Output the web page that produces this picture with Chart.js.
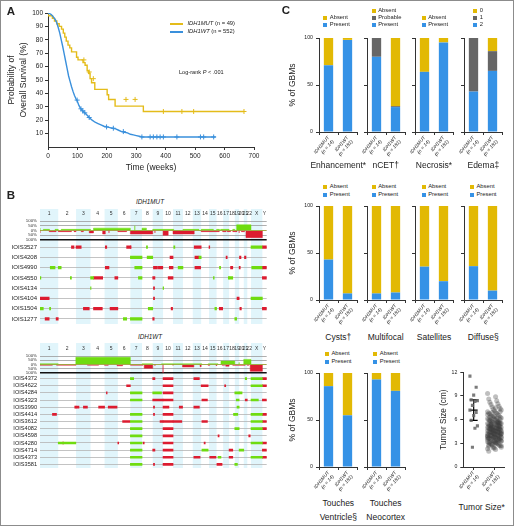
<!DOCTYPE html>
<html><head><meta charset="utf-8">
<script src="https://cdn.jsdelivr.net/npm/chart.js@4.4.1/dist/chart.umd.min.js"></script>
<style>
html,body{margin:0;padding:0;background:#fff;}
#wrap{position:relative;width:514px;height:526px;overflow:hidden;font-family:"Liberation Sans",Arial,Helvetica,sans-serif;color:#222;}
#frame{position:absolute;left:0;top:0;width:512px;height:524px;border:1px solid #8c8c8c;}
canvas{position:absolute;}
.tx{position:absolute;white-space:nowrap;line-height:1;z-index:5;}
.c{transform:translate(-50%,-50%);}
.l{transform:translateY(-50%);}
.sw{position:absolute;z-index:5;}
</style></head><body><div id="wrap"><div id="frame"></div></div>
<script>
// ---------------- DATA ----------------
// Panel A: Kaplan-Meier
const kmMutTime = [0,15,22,30,38,46,52,57,62,68,74,80,97,102,119,126,133,138,143,148,159,201,206,228,324,353,666];
const kmMutSurv = [100,98,96,94,92,90,88,85,82,79,76,74,71,67,65,63,61,57,55,51,48,43,39,35.5,30.5,26.5,26.5];
const kmWtTime = [0,5,10,15,20,25,30,35,40,45,50,55,60,65,70,75,80,85,90,95,100,105,110,115,120,130,140,150,160,170,180,190,200,210,220,230,240,250,260,270,280,290,300,310,320,570];
const kmWtSurv = [100,99.5,99,98,96.5,95,92.5,89,85,80,75,69.5,64,58.5,53,49,45,41.5,38.5,36,34,31,29,27.5,26.5,24.5,22,20,18.5,17.5,16.5,15.5,15,14.5,14,13.5,12.5,11.5,11,10.5,9.5,9,8.5,8,7.5,7.5];
const censMutTime = [122,140,154,265,296,392,455,495,666];
const censMutSurv = [65,56,51,35.5,35.5,26.5,26.5,26.5,26.5];
const censWtTime = [99,112,118,125,140,199,222,256,319,347,358,370,381,392,438,518,529,563];
const censWtSurv = [35,28.5,27,25.5,22,15,14,11.5,7.5,7.5,7.5,7.5,7.5,7.5,7.5,7.5,7.5,7.5];
const timeTicks = [0,100,200,300,400,500,600,700];
const survTicks = [10,20,30,40,50,60,70,80,90,100];

// Panel B: copy-number
const chromLabels = ['1','2','3','4','5','6','7','8','9','10','11','12','13','14','15','16','17','18','19','20','21','22','X','Y'];
const chromSizes = [249,243,198,191,181,171,159,146,141,136,135,134,115,107,103,90,81,78,59,63,48,51,155,59];
const freqTicks = [100,50,0,-50,-100];
const mutSamples = ['IOIS3527','IOIS4208','IOIS4990','IOIS4550','IOIS4134','IOIS4104','IOIS1504','IOIS1277'];
const wtSamples = ['IOIS4372','IOIS4622','IOIS4284','IOIS4323','IOIS3990','IOIS4414','IOIS3612','IOIS4082','IOIS4598','IOIS4280','IOIS4714','IOIS4373','IOIS3581'];
// [sample, chrom, startMb, endMb]
const mutGains = [[0,'8',60,75],[0,'11',10,25],[0,'X',0,150],
 [1,'7',0,159],[1,'8',70,146],[1,'13',85,115],
 [2,'1',140,205],[2,'2',0,40],[2,'7',60,159],[2,'11',70,135],[2,'16',40,55],[2,'X',10,150],
 [3,'1',0,12],[3,'2',165,180],[3,'4',0,40],[3,'7',110,159],[3,'15',60,70],[3,'17',70,81],[3,'18',0,50],
 [4,'4',0,6],[4,'10',0,8],
 [5,'X',0,155],
 [6,'1',0,45],[6,'1',130,145],[6,'8',85,146],[6,'15',80,103],
 [7,'6',75,121],[7,'7',0,159],[7,'19',0,25]];
const mutLosses = [[0,'2',180,215],[0,'3',0,70],[0,'5',10,30],[0,'6',120,171],[0,'7',0,10],[0,'13',20,115],[0,'15',0,10],[0,'Y',0,59],
 [1,'10',95,136],[1,'13',30,85],[1,'17',40,55],[1,'20',5,25],[1,'21',10,30],
 [2,'5',10,60],[2,'9',10,65],[2,'9',77,137],[2,'10',85,136],[2,'13',30,107],[2,'18',20,50],[2,'20',0,15],[2,'Y',0,59],
 [3,'4',40,165],[3,'5',140,181],[3,'9',0,30],[3,'10',70,136],[3,'Y',0,59],
 [4,'9',10,25],
 [5,'1',0,125],[5,'9',10,25],[5,'19',30,59],
 [6,'3',100,180],[6,'4',40,160],[6,'5',75,181],[6,'10',110,130],[6,'16',37,83],[6,'20',10,30],[6,'Y',0,59],
 [7,'1',70,125],[7,'1',220,249],[7,'9',0,20]];
const wtGains = [[0,'7',0,45],[0,'21',20,40],[0,'X',0,155],
 [1,'X',0,155],
 [2,'7',0,159],[2,'9',0,120],[2,'19',0,59],[2,'20',0,40],
 [3,'7',0,159],[3,'19',20,59],[3,'X',0,100],
 [4,'19',30,59],
 [5,'7',0,159],[5,'18',60,78],[5,'19',0,40],[5,'X',0,155],
 [6,'7',0,159],[6,'X',0,155],
 [7,'7',0,159],[7,'19',0,59],[7,'X',0,155],
 [8,'7',0,159],
 [9,'2',0,240],[9,'7',0,159],[9,'X',0,155],
 [10,'7',0,159],[10,'14',10,95],[10,'20',0,63],
 [11,'7',0,159],[11,'16',20,60],[11,'X',0,155],
 [12,'7',0,159],[12,'19',0,35]];
const wtLosses = [[0,'9',0,30],[0,'10',0,136],[0,'13',15,90],[0,'Y',0,59],
 [1,'6',120,171],[1,'10',0,136],[1,'14',0,95],[1,'17',20,35],[1,'Y',0,59],
 [2,'5',25,35],[2,'10',0,136],
 [3,'9',0,141],[3,'10',0,136],[3,'14',10,85],[3,'21',20,48],[3,'Y',0,59],
 [4,'2',225,243],[4,'3',0,40],[4,'3',100,155],[4,'4',110,191],[4,'5',50,170],[4,'9',10,25],[4,'10',0,80],[4,'11',85,130],[4,'13',15,90],
 [5,'1',170,225],[5,'9',10,25],[5,'10',0,136],[5,'Y',0,59],
 [6,'6',65,165],[6,'9',100,141],[6,'10',0,136],[6,'11',0,120],[6,'14',10,85],[6,'Y',0,59],
 [7,'10',0,136],[7,'Y',0,59],
 [8,'10',0,136],[8,'16',20,35],[8,'22',20,40],
 [9,'2',60,75],[9,'6',0,12],[9,'8',15,30],[9,'10',0,136],[9,'14',40,55],[9,'Y',0,59],
 [10,'9',0,30],[10,'10',0,136],[10,'18',0,50],[10,'Y',0,59],
 [11,'10',0,136],[11,'13',15,100],[11,'15',10,95],[11,'18',0,50],[11,'Y',0,59],
 [12,'9',10,25],[12,'10',0,136],[12,'16',5,75]];
// summary frequency [chrom, startMb, endMb, percent]
const mutFreqGain = [['1',0,45,25],['1',130,205,12],['2',0,40,12],['4',0,40,12],['7',0,60,25],['7',60,159,50],['8',60,146,25],['11',10,135,12],['13',85,115,12],['15',60,103,12],['16',40,55,12],['18',0,50,12],['19',0,25,12],['X',0,155,60]];
const mutFreqLoss = [['1',0,125,25],['1',220,249,12],['2',180,215,12],['3',0,70,12],['3',100,180,12],['4',40,165,25],['5',10,60,37],['5',60,181,25],['6',120,171,12],['9',0,30,37],['9',30,141,25],['10',70,136,50],['13',20,115,37],['16',37,83,12],['17',40,55,12],['18',20,50,12],['19',30,59,12],['20',0,30,25],['21',10,30,12],['Y',0,59,75]];
const wtFreqGain = [['2',0,240,8],['7',0,159,85],['9',0,120,8],['14',10,95,8],['16',20,60,8],['19',0,59,40],['20',0,63,25],['X',0,155,60]];
const wtFreqLoss = [['1',170,225,8],['3',0,155,8],['4',110,191,8],['5',50,170,10],['6',65,171,15],['8',15,30,8],['9',0,30,45],['9',30,141,15],['10',0,136,100],['11',0,130,12],['13',15,100,30],['14',0,95,25],['15',10,95,10],['16',5,75,12],['17',20,35,8],['18',0,50,20],['21',20,48,10],['22',20,40,10],['Y',0,59,80]];

// Panel C: stacked percentages [IDH1MUT, IDH1WT]
const groupCats = [['IDH1MUT','(n = 14)'],['IDH1WT','(n = 181)']];
const pctTicks = [0,50,100];
const enhPresent=[71,98], enhAbsent=[29,2];
const ncetPresent=[80,26.5], ncetProbable=[20,1], ncetAbsent=[0,72.5];
const necPresent=[64,95.3], necAbsent=[36,4.7];
const edema2=[43,65], edema1=[57,21], edema0=[0,14];
const cystPresent=[43,7], cystAbsent=[57,93];
const multiPresent=[7,8], multiAbsent=[93,92];
const satPresent=[35.5,20], satAbsent=[64.5,80];
const diffPresent=[36,10], diffAbsent=[64,90];
const ventPresent=[86,55], ventAbsent=[14,45];
const neoPresent=[93,81], neoAbsent=[7,19];
// Tumor size (cm)
const sizeTicks=[0,3,6,9,12];
const mutSize=[11.5,10.1,9.1,8.5,8.4,8.3,7.8,7.2,6.9,6.5,5.9,5.2,4.9,2.5];
const wtSize=[9.3,8.9,8.6,8.4,8.2,8.0,7.9,7.7,7.6,7.4,7.3,7.2,7.1,7.0,6.9,6.8,6.8,6.7,6.6,6.5,6.5,6.4,6.3,6.3,6.2,6.1,6.1,6.0,6.0,5.9,
 5.9,5.8,5.8,5.7,5.7,5.6,5.6,5.5,5.5,5.5,5.4,5.4,5.3,5.3,5.3,5.2,5.2,5.1,5.1,5.1,5.0,5.0,5.0,4.9,4.9,4.9,4.8,4.8,4.8,4.8,
 4.7,4.7,4.7,4.6,4.6,4.6,4.5,4.5,4.5,4.5,4.4,4.4,4.4,4.3,4.3,4.3,4.2,4.2,4.2,4.1,4.1,4.1,4.0,4.0,4.0,3.9,3.9,3.9,3.8,3.8,
 3.8,3.7,3.7,3.7,3.6,3.6,3.5,3.5,3.5,3.4,3.4,3.3,3.3,3.2,3.2,3.1,3.1,3.0,3.0,2.9,2.9,2.8,2.8,2.7,2.6,2.5,2.4,2.3,2.2,2.0,
 6.2,5.9,5.6,5.4,5.2,5.0,4.8,4.6,4.4,4.2,4.0,3.8,3.6,3.4,3.2,5.7,5.3,4.9,4.5,4.1,3.7,3.3,6.4,6.6,7.5,2.6,3.0,4.3,4.7,5.1,
 5.5,5.8,6.0,4.5,4.2,3.9,3.5,3.1,2.8,5.0,4.8,4.4,4.0,3.6,6.9,7.0,2.4,2.7,3.3,3.9,4.6,5.2,5.6,6.3,4.1,4.9,3.4,2.9,5.4,4.3,3.7];
const mutSizeMean=7.2, mutSizeLow=5.9, mutSizeHigh=8.5;
const wtSizeMean=4.8, wtSizeLow=4.45, wtSizeHigh=5.1;

// ---------------- STYLE ----------------
const FONT='"Liberation Sans", Arial, Helvetica, sans-serif';
Chart.defaults.font.family=FONT;
Chart.defaults.color='#222';
const kmYellow='#e4bc1a', kmBlue='#3a90dc';
const barBlue='#3592e6', barYellow='#e2b904', barGray='#666666';
const gainCol='#6fdc10', lossCol='#dc1c30', bandCol='#e1f5fb';
const axisCol='#333';

const wrap=document.getElementById('wrap');
function addCanvas(l,t,w,h){const c=document.createElement('canvas');c.width=w;c.height=h;c.style.left=l+'px';c.style.top=t+'px';c.style.width=w+'px';c.style.height=h+'px';wrap.appendChild(c);return c;}
function addText(html,x,y,size,o={}){const d=document.createElement('div');d.className='tx '+(o.left?'l':'c');d.innerHTML=html;d.style.left=x+'px';d.style.top=y+'px';d.style.fontSize=size+'px';if(o.bold)d.style.fontWeight='bold';if(o.italic)d.style.fontStyle='italic';wrap.appendChild(d);return d;}
function addSwatch(x,y,w,h,col){const d=document.createElement('div');d.className='sw';d.style.left=x+'px';d.style.top=y+'px';d.style.width=w+'px';d.style.height=h+'px';d.style.background=col;wrap.appendChild(d);}
const base={responsive:false,maintainAspectRatio:false,animation:false,devicePixelRatio:1,events:[],plugins:{legend:{display:false},tooltip:{enabled:false},title:{display:false}}};
// fixed-size axis boxes, no extra label padding pushed into the layout
const fitV=w=>s=>{s.width=w;s.paddingTop=0;s.paddingBottom=0;};
const fitH=h=>s=>{s.height=h;s.paddingLeft=0;s.paddingRight=0;};

// ---------------- PANEL A ----------------
new Chart(addCanvas(0,0,270,176),{
 type:'line',
 data:{datasets:[
  {data:kmWtTime.map((t,i)=>({x:t,y:kmWtSurv[i]})),borderColor:kmBlue,borderWidth:1.4,pointRadius:0,tension:0},
  {data:kmMutTime.map((t,i)=>({x:t,y:kmMutSurv[i]})),borderColor:kmYellow,borderWidth:1.4,pointRadius:0,stepped:'after'},
  {type:'scatter',data:censWtTime.map((t,i)=>({x:t,y:censWtSurv[i]})),pointStyle:'cross',pointRadius:2.5,borderColor:kmBlue,borderWidth:1},
  {type:'scatter',data:censMutTime.map((t,i)=>({x:t,y:censMutSurv[i]})),pointStyle:'cross',pointRadius:2.5,borderColor:kmYellow,borderWidth:1}
 ]},
 options:{...base,layout:{padding:{top:13,right:16,left:0,bottom:0}},
  scales:{
   x:{type:'linear',min:0,max:700,afterBuildTicks:s=>{s.ticks=timeTicks.map(v=>({value:v}));},
      ticks:{font:{size:6.5},color:'#222',padding:2,maxRotation:0,autoSkip:false},
      grid:{drawOnChartArea:false,tickLength:3,color:axisCol},border:{color:axisCol,width:1},
      title:{display:true,text:'Time (weeks)',font:{size:8.5},color:'#222',padding:{top:0,bottom:3}},
      afterFit:fitH(29)},
   y:{type:'linear',min:0,max:100,afterBuildTicks:s=>{s.ticks=survTicks.map(v=>({value:v}));},
      ticks:{font:{size:6.5},color:'#222',padding:2,autoSkip:false},
      grid:{drawOnChartArea:false,tickLength:3,color:axisCol},border:{color:axisCol,width:1},
      title:{display:true,text:['Probability of','Overall Survival (%)'],font:{size:8.5,lineHeight:1.4},color:'#222',padding:{top:6,bottom:0}},
      afterFit:fitV(48)}
  }}
});
addSwatch(170,23.3,13,1.5,kmYellow);
addSwatch(170,31.3,13,1.5,kmBlue);
addText('<i>IDH1MUT</i> (n = 49)',187.5,24,5.8,{left:true});
addText('<i>IDH1WT</i> (n = 552)',187.5,32,5.8,{left:true});
addText('Log-rank <i>P</i> &lt; .001',179,72.7,5.6,{left:true});

// ---------------- PANEL B ----------------
const chromOffsets=[];let acc=0;chromSizes.forEach(s=>{chromOffsets.push(acc);acc+=s;});
const genomeTotal=acc;
const chromCenters=chromSizes.map((s,i)=>chromOffsets[i]+s/2);
const gpos=(c,p)=>chromOffsets[chromLabels.indexOf(c)]+p;
const bandPlugin={id:'bands',beforeDraw(chart){const x=chart.scales.x,ctx=chart.ctx;ctx.save();ctx.fillStyle=bandCol;
 for(let i=0;i<chromSizes.length;i+=2){const a=x.getPixelForValue(chromOffsets[i]),b=x.getPixelForValue(chromOffsets[i]+chromSizes[i]);ctx.fillRect(a,0,b-a,chart.height);}ctx.restore();}};
function stepPts(segs,sign){const arr=segs.map(s=>[gpos(s[0],s[1]),gpos(s[0],s[2]),s[3]]).sort((a,b)=>a[0]-b[0]);
 const pts=[{x:0,y:0}];arr.forEach(s=>{pts.push({x:s[0],y:sign*s[2]});pts.push({x:s[1],y:0});});pts.push({x:genomeTotal,y:0});return pts;}
function summaryChart(top,h,axisH,gains,losses){
 new Chart(addCanvas(0,top,270,h),{type:'line',plugins:[bandPlugin],
  data:{datasets:[
   {data:stepPts(gains,1),stepped:'after',fill:'origin',backgroundColor:gainCol,borderColor:gainCol,borderWidth:0.5,pointRadius:0},
   {data:stepPts(losses,-1),stepped:'after',fill:'origin',backgroundColor:lossCol,borderColor:lossCol,borderWidth:0.5,pointRadius:0}]},
  options:{...base,layout:{padding:{top:0,right:3.3,left:0,bottom:2}},
   scales:{
    x:{type:'linear',position:'top',min:0,max:genomeTotal,afterBuildTicks:s=>{s.ticks=chromCenters.map(v=>({value:v}));},
       ticks:{autoSkip:false,maxRotation:0,callback:(v,i)=>chromLabels[i],font:{size:5},color:'#333',padding:4.5},
       grid:{display:false,drawTicks:false},border:{display:false},afterFit:fitH(axisH)},
    y:{type:'linear',min:-100,max:100,afterBuildTicks:s=>{s.ticks=freqTicks.map(v=>({value:v}));},
       ticks:{autoSkip:false,callback:v=>Math.abs(v)+'%',font:{size:4.4,lineHeight:1},color:'#333',padding:3},
       grid:{drawTicks:false,color:c=>c.tick&&c.tick.value===-100?'#111':(c.tick&&c.tick.value===0?'#c8c8c8':'#9a9a9a'),lineWidth:c=>c.tick&&c.tick.value===-100?1.6:0.8},
       border:{display:false},afterFit:fitV(40)}
   }}});
}
function rowsChart(top,h,names,gains,losses,thick){
 const toBars=segs=>segs.map(s=>({y:names[s[0]],x:[gpos(s[1],s[2]),gpos(s[1],s[3])]}));
 new Chart(addCanvas(0,top,270,h),{type:'bar',plugins:[bandPlugin],
  data:{labels:names,datasets:[
   {data:toBars(gains),backgroundColor:gainCol,barThickness:thick,grouped:false,borderWidth:0},
   {data:toBars(losses),backgroundColor:lossCol,barThickness:thick,grouped:false,borderWidth:0}]},
  options:{...base,indexAxis:'y',layout:{padding:{top:0,right:3.3,left:0,bottom:0}},
   scales:{
    x:{type:'linear',min:0,max:genomeTotal,display:false},
    y:{type:'category',offset:true,
       ticks:{autoSkip:false,font:{size:names.length>8?5.6:6},color:'#222',padding:3},
       grid:{offset:false,drawTicks:false,color:'#b4b4b4',lineWidth:0.8},border:{display:false},afterFit:fitV(40)}
   }}});
}
summaryChart(209,33,12,mutFreqGain,mutFreqLoss);
rowsChart(242,82,mutSamples,mutGains,mutLosses,2.6);
summaryChart(343,32,13,wtFreqGain,wtFreqLoss);
rowsChart(375,93,wtSamples,wtGains,wtLosses,2);
addText('IDH1MUT',150,201.7,6.3,{italic:true});
addText('IDH1WT',150,336.7,6.3,{italic:true});

// ---------------- PANEL C ----------------
function stackChart(left,top,yw,series,yLabels){
 const w=yw+38+3,h=5+94+30;
 new Chart(addCanvas(left,top,w,h),{type:'bar',
  data:{labels:groupCats,datasets:series.map(s=>({label:s[0],data:s[1],backgroundColor:s[2],borderWidth:0,categoryPercentage:0.5,barPercentage:0.98}))},
  options:{...base,layout:{padding:{top:5,right:3,left:0,bottom:0}},
   scales:{
    x:{stacked:true,ticks:{font:{size:4.8,style:'italic'},color:'#222',maxRotation:50,minRotation:50,autoSkip:false,padding:0},
       grid:{drawOnChartArea:false,tickLength:3,color:axisCol},border:{color:axisCol},afterFit:fitH(30)},
    y:{stacked:true,min:0,max:100,afterBuildTicks:s=>{s.ticks=pctTicks.map(v=>({value:v}));},
       ticks:{display:yLabels,font:{size:5.2},color:'#222',padding:3},
       grid:{drawOnChartArea:false,tickLength:3,color:axisCol},border:{color:axisCol},
       title:{display:yLabels,text:'% of GBMs',font:{size:8.5},color:'#222',padding:{top:17.5,bottom:0}},
       afterFit:fitV(yw)}
   }}});
}
const gL=[270,362,410,459], gY=[49,5,5,5];
stackChart(gL[0],33,gY[0],[['Present',enhPresent,barBlue],['Absent',enhAbsent,barYellow]],true);
stackChart(gL[1],33,gY[1],[['Present',ncetPresent,barBlue],['Probable',ncetProbable,barGray],['Absent',ncetAbsent,barYellow]],false);
stackChart(gL[2],33,gY[2],[['Present',necPresent,barBlue],['Absent',necAbsent,barYellow]],false);
stackChart(gL[3],33,gY[3],[['2',edema2,barBlue],['1',edema1,barGray],['0',edema0,barYellow]],false);
stackChart(gL[0],201,gY[0],[['Present',cystPresent,barBlue],['Absent',cystAbsent,barYellow]],true);
stackChart(gL[1],201,gY[1],[['Present',multiPresent,barBlue],['Absent',multiAbsent,barYellow]],false);
stackChart(gL[2],201,gY[2],[['Present',satPresent,barBlue],['Absent',satAbsent,barYellow]],false);
stackChart(gL[3],201,gY[3],[['Present',diffPresent,barBlue],['Absent',diffAbsent,barYellow]],false);
stackChart(gL[0],368,gY[0],[['Present',ventPresent,barBlue],['Absent',ventAbsent,barYellow]],true);
stackChart(gL[1],368,gY[1],[['Present',neoPresent,barBlue],['Absent',neoAbsent,barYellow]],false);

// tumor size scatter
new Chart(addCanvas(430,367,80,130),{type:'scatter',
 data:{datasets:[
  {data:wtSize.map((v,i)=>({x:1.5+(((i*7)%13)-6)*0.055,y:v})),pointStyle:'circle',pointRadius:2.5,backgroundColor:'rgba(60,60,60,0.33)',borderWidth:0},
  {data:mutSize.map((v,i)=>({x:0.5+(((i*5)%7)-3)*0.06,y:v})),pointStyle:'rect',pointRadius:2.2,backgroundColor:'rgba(100,100,100,0.85)',borderWidth:0},
  {type:'line',data:[{x:0.5,y:mutSizeLow},{x:0.5,y:mutSizeHigh}],borderColor:'#000',borderWidth:1.2,pointRadius:0},
  {data:[{x:0.5,y:mutSizeLow},{x:0.5,y:mutSizeHigh},{x:0.5,y:mutSizeMean}],pointStyle:'line',pointRadius:4,borderColor:'#000',borderWidth:1.2},
  {type:'line',data:[{x:1.5,y:wtSizeLow},{x:1.5,y:wtSizeHigh}],borderColor:'#fff',borderWidth:1.2,pointRadius:0},
  {data:[{x:1.5,y:wtSizeLow},{x:1.5,y:wtSizeHigh},{x:1.5,y:wtSizeMean}],pointStyle:'line',pointRadius:3.5,borderColor:'#fff',borderWidth:1.2}
 ]},
 options:{...base,layout:{padding:{top:5,right:4.7,left:0,bottom:0}},
  scales:{
   x:{type:'linear',min:0,max:2,afterBuildTicks:s=>{s.ticks=[0.5,1.5].map(v=>({value:v}));},
      ticks:{callback:(v,i)=>groupCats[i],font:{size:4.8,style:'italic'},color:'#222',maxRotation:50,minRotation:50,autoSkip:false,padding:0},
      grid:{drawOnChartArea:false,tickLength:3,color:axisCol},border:{color:axisCol},afterFit:fitH(30)},
   y:{type:'linear',min:0,max:12,afterBuildTicks:s=>{s.ticks=sizeTicks.map(v=>({value:v}));},
      ticks:{font:{size:5.2},color:'#222',padding:3,autoSkip:false},
      grid:{drawOnChartArea:false,tickLength:3,color:axisCol},border:{color:axisCol},
      title:{display:true,text:'Tumor Size (cm)',font:{size:8.2},color:'#222',padding:{top:8.5,bottom:0}},
      afterFit:fitV(33.3)}
  }}});

// legends for panel C (top item first)
function legend(x,bottomY,step,items){items.forEach((it,i)=>{const y=bottomY-(items.length-1-i)*step;addSwatch(x,y-2,4,4,it[0]);addText(it[1],x+6.5,y,5.8,{left:true});});}
legend(323.3,25.3,7.3,[[barYellow,'Absent'],[barBlue,'Present']]);
legend(371.7,25.3,7.3,[[barYellow,'Absent'],[barGray,'Probable'],[barBlue,'Present']]);
legend(421.7,25.3,7.3,[[barYellow,'Absent'],[barBlue,'Present']]);
legend(473.3,25.3,7.3,[[barYellow,'0'],[barGray,'1'],[barBlue,'2']]);
legend(323.3,195.3,8,[[barYellow,'Absent'],[barBlue,'Present']]);
legend(371.7,195.3,8,[[barYellow,'Absent'],[barBlue,'Present']]);
legend(421.7,195.3,8,[[barYellow,'Absent'],[barBlue,'Present']]);
legend(470,195.3,8,[[barYellow,'Absent'],[barBlue,'Present']]);
legend(325,362,8,[[barYellow,'Absent'],[barBlue,'Present']]);
legend(373.3,362,8,[[barYellow,'Absent'],[barBlue,'Present']]);

// group titles
const gx=[338.3,385.7,434,483.3];
['Enhancement*','nCET†','Necrosis*','Edema‡'].forEach((t,i)=>addText(t,gx[i],165,8.5));
['Cysts†','Multifocal','Satellites','Diffuse§'].forEach((t,i)=>addText(t,gx[i],336.7,8.5));
addText('Touches',gx[0],503,8.5);addText('Ventricle§',gx[0],516.5,8.5);
addText('Touches',gx[1],503,8.5);addText('Neocortex',gx[1],516.5,8.5);
addText('Tumor Size*',481.7,507,8.5);

// panel letters
addText('A',11,12,11.5,{bold:true});
addText('B',11,196,11.5,{bold:true});
addText('C',286,11,11.5,{bold:true});
</script></body></html>
